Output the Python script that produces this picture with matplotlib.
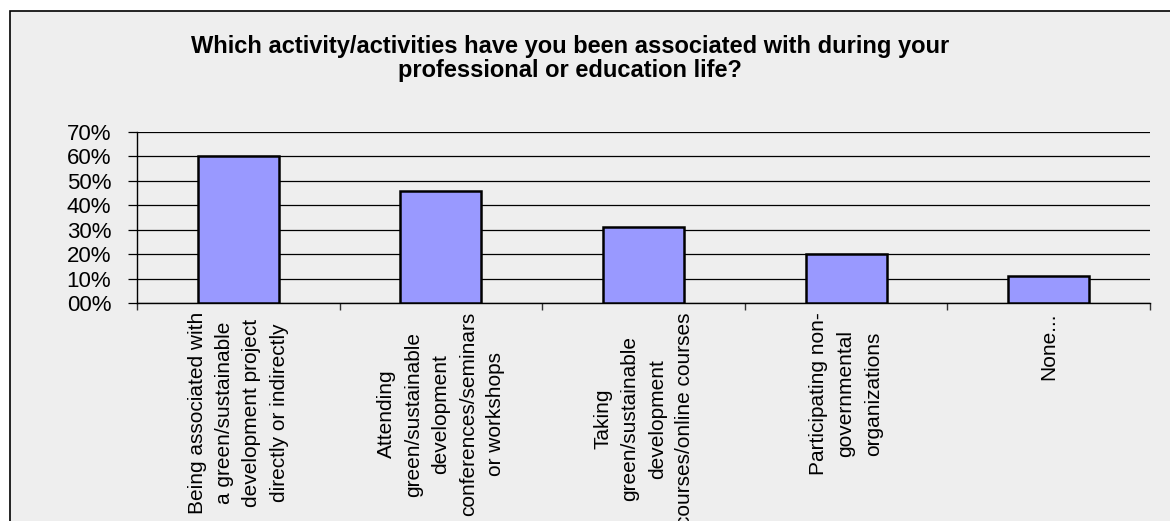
import numpy as np
import matplotlib.pyplot as plt
from matplotlib.patches import Rectangle

plt.rcParams['font.family'] = ['Liberation Sans', 'DejaVu Sans']

# values (percent)
categories = [
    "Being associated with\na green/sustainable\ndevelopment project\ndirectly or indirectly",
    "Attending\ngreen/sustainable\ndevelopment\nconferences/seminars\nor workshops",
    "Taking\ngreen/sustainable\ndevelopment\ncourses/online courses",
    "Participating non-\ngovernmental\norganizations",
    "None...",
]
values = [60, 46, 31, 20, 11]
yticks = [0, 10, 20, 30, 40, 50, 60, 70]
ytick_labels = ["%02d%%" % v for v in yticks]

title = ("Which activity/activities have you been associated with during your\n"
         "professional or education life?")

W, H = 1170, 521
fig = plt.figure(figsize=(W / 100, H / 100), dpi=100)
fig.patch.set_facecolor('white')

# grey chart area with border on top/left (rest runs off the image)
fig.patches.append(Rectangle((10 / W, -0.2), 1.5, 1.2 - 11 / H,
                             transform=fig.transFigure, facecolor='#eeeeee',
                             edgecolor='black', linewidth=1.2, zorder=-5))

ax = fig.add_axes([137 / W, 1 - 303 / H, (1150 - 137) / W, (303 - 132) / H])
ax.set_facecolor('none')

x = np.arange(len(categories))
ax.bar(x, values, width=0.4, color='#9999ff', edgecolor='black',
       linewidth=1.8, zorder=3)

ax.set_xlim(-0.5, len(categories) - 0.5)
ax.set_ylim(0, 70)
ax.set_yticks(yticks)
ax.set_yticklabels(ytick_labels, fontsize=16)
ax.yaxis.grid(True, color='black', linewidth=0.9)
ax.set_axisbelow(True)

ax.set_xticks(x)
ax.set_xticklabels(categories, rotation=90, fontsize=15, ha='center',
                   va='top', multialignment='center', linespacing=1.55)
ax.set_xticks(np.arange(len(categories) + 1) - 0.5, minor=True)
ax.tick_params(axis='x', which='major', length=0, pad=6.5)
ax.tick_params(axis='x', which='minor', length=5, width=1, color='#333333')
ax.tick_params(axis='y', length=6.5, width=0.9, pad=12)

for s in ['top', 'right']:
    ax.spines[s].set_visible(False)
for s in ['left', 'bottom']:
    ax.spines[s].set_linewidth(1)

fig.text(570 / W, 1 - 35 / H, title, ha='center', va='top', fontsize=17,
         fontweight='bold', linespacing=1.08)

fig.savefig('out.png', dpi=100)
